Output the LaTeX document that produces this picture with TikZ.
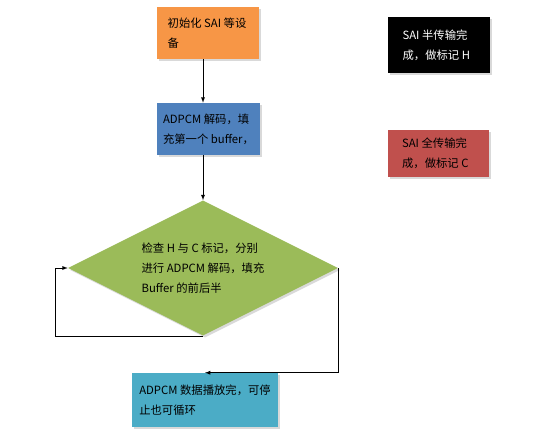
\documentclass[tikz,border=0pt]{standalone}
\usepackage{fontspec}
\setmainfont{Noto Sans CJK SC}
\usepackage{tikz}
\usetikzlibrary{shapes.geometric}
\usetikzlibrary{shadows}
\definecolor{boxorange}{HTML}{F79646}
\definecolor{boxblue}{HTML}{4F81BD}
\definecolor{boxred}{HTML}{C0504D}
\definecolor{boxgreen}{HTML}{9BBB59}
\definecolor{boxcyan}{HTML}{4BACC6}

\begin{document}
\begin{tikzpicture}[x=0.75pt,y=-0.75pt,>=latex,
		box/.style={rectangle, inner sep=0pt, align=left,
			font=\fontsize{8.5pt}{15pt}\selectfont,
			drop shadow={shadow xshift=1.5pt,shadow yshift=-1.5pt,opacity=0.3,fill=gray}},
		line/.style={->, thin}]
		%\draw [help lines] (0,0) grid (550,442);
		\useasboundingbox (0,0) rectangle (550,442);
		
		%BOX
		\node[box, fill=boxorange, minimum width=76.5pt, minimum height=39pt]
			(init) at (208,33) {初始化 SAI 等设\\备\hspace*{52pt}};
		\node[box, fill=boxblue, minimum width=77.25pt, minimum height=39pt]
			(dec) at (208.5,129) {ADPCM 解码，填\\充第一个 buffer，};
		\node[box, fill=black, text=white, minimum width=76.5pt, minimum height=42pt]
			(half) at (439,45) {SAI 半传输完\hspace*{6pt}\\成，做标记 H};
		\node[box, fill=boxred, minimum width=75.75pt, minimum height=35.25pt]
			(full) at (438.5,153.5) {SAI 全传输完\hspace*{6pt}\\成，做标记 C};
		
		%ROMBO
		\node[diamond, fill=boxgreen, inner sep=0pt, aspect=2, align=left,
			minimum width=202.5pt, minimum height=101.25pt,
			font=\fontsize{8.5pt}{15pt}\selectfont,
			drop shadow={shadow xshift=1.5pt,shadow yshift=-1.5pt,opacity=0.3,fill=gray}]
			(dia) at (203,268) {检查 H 与 C 标记，分别\\进行 ADPCM 解码，填充\\Buffer 的前后半};
		
		\node[box, fill=boxcyan, minimum width=109.5pt, minimum height=40.5pt]
			(play) at (205,400) {ADPCM 数据播放完，可停\\止也可循环};
		
		%FRECCE
		\coordinate (loop) at (55,335);
		\draw[line] (init.south -| dia.north) -- (dec.north -| dia.north);
		\draw[line] (dec.south -| dia.north) -- (dia.north);
		\draw[line] (dia.south) -- (dia.south -| loop) |- (dia.west);
		\draw[line] (dia.east) |- (play.north);
		
	\end{tikzpicture}
\end{document}
